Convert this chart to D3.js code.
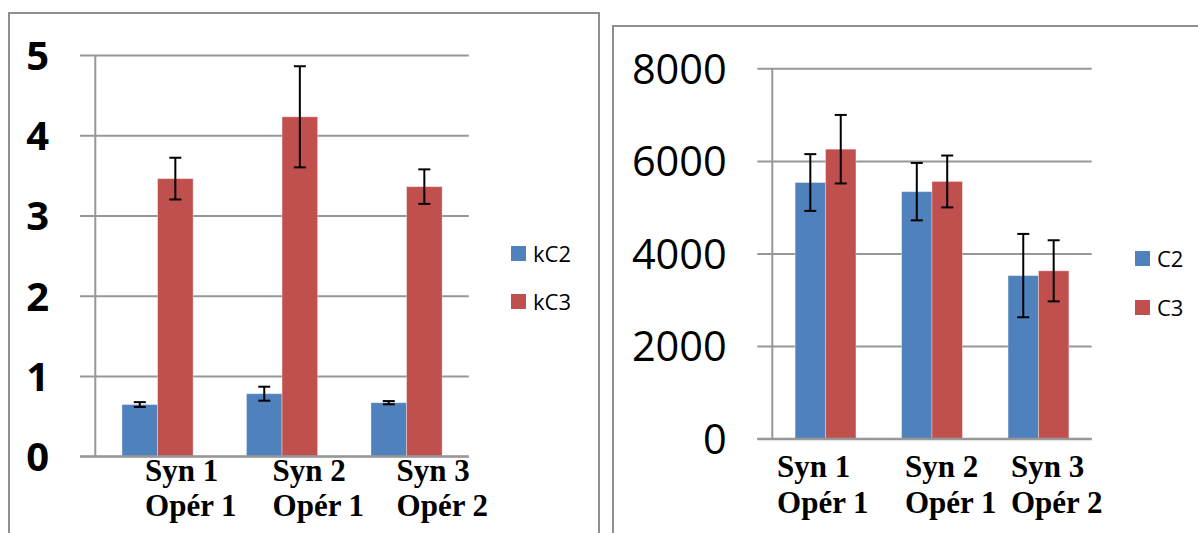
<!DOCTYPE html>
<html>
<head>
<meta charset="utf-8">
<script src="https://cdn.jsdelivr.net/npm/d3@7"></script>
<style>
  html, body { margin: 0; padding: 0; background: #ffffff; }
  svg { display: block; }
</style>
</head>
<body>
<svg id="chart" width="1198" height="533"></svg>
<script>
// ---------- DATA ----------
const categories = [["Syn 1", "Opér 1"], ["Syn 2", "Opér 1"], ["Syn 3", "Opér 2"]];

const leftSeries = ["kC2", "kC3"];
const kC2 = [0.645, 0.78, 0.668];
const kC2Err = [0.03, 0.087, 0.02];
const kC3 = [3.46, 4.23, 3.36];
const kC3Err = [0.26, 0.63, 0.215];
const leftTicks = [0, 1, 2, 3, 4, 5];

const rightSeries = ["C2", "C3"];
const C2 = [5533, 5336, 3523];
const C2Err = [613, 620, 900];
const C3 = [6253, 5556, 3626];
const C3Err = [740, 560, 660];
const rightTicks = [0, 2000, 4000, 6000, 8000];

// ---------- STYLE ----------
const colors = ["#4F81BD", "#C0504D"];
const gridColor = "#979797";
const frameColor = "#8f8f8f";

const svg = d3.select("#chart");

function drawChart(cfg) {
  const g = svg.append("g");
  // frame
  g.append("rect")
    .attr("x", cfg.frame[0]).attr("y", cfg.frame[1])
    .attr("width", cfg.frame[2]).attr("height", cfg.frame[3])
    .attr("fill", "none").attr("stroke", frameColor).attr("stroke-width", 2);

  const x = d3.scaleBand().domain(d3.range(categories.length))
    .range([cfg.plotLeft, cfg.plotRight]).paddingInner(0).paddingOuter(0);
  const xs = d3.scaleBand().domain(d3.range(cfg.series.length))
    .range([0, x.bandwidth()]).paddingInner(0).paddingOuter(0.75);
  const y = d3.scaleLinear().domain(cfg.domain).range([cfg.plotBottom, cfg.plotTop]);

  // grid + tick labels via axis
  const axis = d3.axisLeft(y).tickValues(cfg.ticks)
    .tickSize(cfg.plotRight - cfg.tickStart).tickPadding(cfg.tickPad)
    .tickFormat(d3.format("d"));
  const ag = g.append("g").attr("transform", `translate(${cfg.plotRight},0)`).call(axis);
  ag.select(".domain").remove();
  ag.selectAll(".tick line").attr("stroke", gridColor).attr("stroke-width", 2);
  ag.selectAll(".tick text")
    .attr("fill", "#000")
    .attr("font-family", cfg.tickFont)
    .attr("font-weight", cfg.tickWeight)
    .attr("font-size", cfg.tickSize)
    .attr("dy", "0.357em");

  // vertical axis line
  g.append("line")
    .attr("x1", cfg.plotLeft).attr("x2", cfg.plotLeft)
    .attr("y1", y(cfg.domain[0])).attr("y2", y(cfg.domain[1]))
    .attr("stroke", gridColor).attr("stroke-width", 2);

  // bars
  cfg.series.forEach((s, si) => {
    const vals = cfg.values[si];
    const errs = cfg.errors[si];
    const bars = g.append("g");
    bars.selectAll("rect").data(vals).join("rect")
      .attr("x", (d, i) => x(i) + xs(si))
      .attr("y", d => y(d))
      .attr("width", xs.bandwidth())
      .attr("height", d => y(0) - y(d))
      .attr("fill", colors[si])
      .attr("stroke", "rgba(255,255,255,0.35)")
      .attr("stroke-width", 1);
    // error bars
    const eb = g.append("g").attr("stroke", "#000").attr("stroke-width", 2);
    vals.forEach((v, i) => {
      const cx = x(i) + xs(si) + xs.bandwidth() / 2;
      const yHi = y(v + errs[i]), yLo = y(v - errs[i]);
      eb.append("line").attr("x1", cx).attr("x2", cx).attr("y1", yHi).attr("y2", yLo);
      eb.append("line").attr("x1", cx - 6).attr("x2", cx + 6).attr("y1", yHi).attr("y2", yHi);
      eb.append("line").attr("x1", cx - 6).attr("x2", cx + 6).attr("y1", yLo).attr("y2", yLo);
    });
  });

  // redraw the baseline over bars
  g.append("line")
    .attr("x1", cfg.tickStart).attr("x2", cfg.plotRight)
    .attr("y1", y(0)).attr("y2", y(0))
    .attr("stroke", gridColor).attr("stroke-width", 2);

  // category labels
  categories.forEach((lines, i) => {
    const t = g.append("text")
      .attr("font-family", "'Liberation Serif', 'Times New Roman', serif")
      .attr("font-weight", "bold")
      .attr("font-size", 31)
      .attr("fill", "#000");
    const lx = x(i) + x.bandwidth() / 2 + cfg.labelDx[i];
    lines.forEach((ln, li) => {
      t.append("tspan").attr("x", lx).attr("y", cfg.labelY[li]).text(ln);
    });
  });

  // legend
  cfg.series.forEach((s, si) => {
    const ly = cfg.legendY[si];
    g.append("rect")
      .attr("x", cfg.legendX).attr("y", ly)
      .attr("width", 15).attr("height", 15)
      .attr("fill", colors[si]);
    g.append("text")
      .attr("x", cfg.legendX + 22).attr("y", ly + 15.5)
      .attr("font-family", "'Open Sans', sans-serif")
      .attr("font-size", 22)
      .attr("fill", "#000")
      .text(s);
  });
}

drawChart({
  frame: [9, 13, 590, 540],
  plotLeft: 95.3, plotRight: 468.8, plotTop: 55, plotBottom: 456.3,
  tickStart: 80, tickPad: 31,
  domain: [0, 5], ticks: leftTicks,
  tickFont: "'Open Sans', sans-serif", tickWeight: "bold", tickSize: 40,
  series: leftSeries, values: [kC2, kC3], errors: [kC2Err, kC3Err],
  labelDx: [-12.5, -9.5, -10],
  labelY: [481, 516],
  legendX: 511, legendY: [246, 294]
});

drawChart({
  frame: [613, 26, 600, 540],
  plotLeft: 772.3, plotRight: 1091.7, plotTop: 68.3, plotBottom: 438.7,
  tickStart: 757.3, tickPad: 30.5,
  domain: [0, 8000], ticks: rightTicks,
  tickFont: "'Open Sans', sans-serif", tickWeight: "normal", tickSize: 41.5,
  series: rightSeries, values: [C2, C3], errors: [C2Err, C3Err],
  labelDx: [-48.5, -27, -27.5],
  labelY: [477, 513],
  legendX: 1135, legendY: [251, 300]
});
</script>
</body>
</html>
